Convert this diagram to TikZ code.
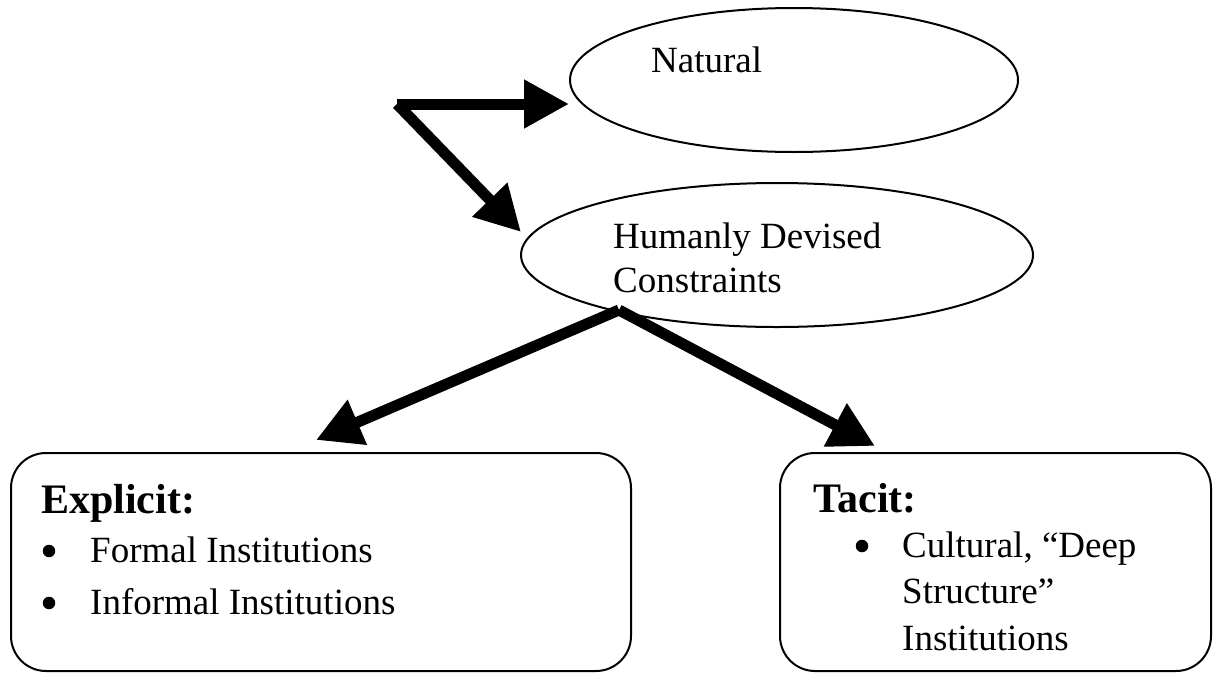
\documentclass[tikz,border=0pt]{standalone}
\usepackage{fontspec}
\setmainfont{Liberation Serif}
\usetikzlibrary{arrows.meta,shapes.geometric,calc}

\begin{document}
\begin{tikzpicture}[x=1pt,y=-1pt,
  outline/.style={draw=black, line width=2pt},
  oval/.style={outline, ellipse, inner sep=0pt},
  panel/.style={outline, rounded corners=35pt, inner sep=0pt},
  bigarrow/.style={line width=11pt, -{Triangle[length=45pt,width=46pt]}},
  txt/.style={inner sep=0pt, anchor=base west, font=\fontsize{37}{43}\selectfont},
  head/.style={inner sep=0pt, anchor=base west, font=\fontsize{42}{48}\selectfont\bfseries},
  dot/.style={circle, fill=black, inner sep=0pt, minimum size=12.5pt},
]
\useasboundingbox (0,0) rectangle (1217,675);

% the two kinds of constraint
\node[oval, minimum width=448pt, minimum height=144pt] (nat) at (794,80) {};
\node[oval, minimum width=512pt, minimum height=144pt] (hum) at (777,255) {};
\node[txt] (natlbl) at (651,72) {Natural};
\node[txt] (humA) at (613,248) {Humanly Devised};
\node[txt] (humB) at (613,292) {Constraints};

% the two kinds of institution
\node[panel, minimum width=620pt, minimum height=218pt, anchor=north west] (left) at (10,452) {};
\node[panel, minimum width=431pt, minimum height=218pt, anchor=north west] (right) at (779,452) {};

\node[head] (exh) at (41,513) {Explicit:};
\node[dot] (b1) at (49,551) {};
\node[txt] (f1) at (90,562) {Formal Institutions};
\node[dot] (b2) at (49,603) {};
\node[txt] (f2) at (90,614) {Informal Institutions};

\node[head] (tch) at (813,512) {Tacit:};
\node[dot] (b3) at (862,546) {};
\node[txt] (t1) at (902,557) {Cultural, “Deep};
\node[txt] (t2) at (902,603) {Structure”};
\node[txt] (t3) at (902,650) {Institutions};

% connectors
\coordinate (fork) at (397,104);
\coordinate (humtip) at ($(hum.west)+(1,-23)$);
\draw[bigarrow] (fork) -- (fork -| nat.west);
\draw[bigarrow] (fork) -- (humtip);

\coordinate (split) at (619,310);
\coordinate (lefttip) at ($(left.north west)+(306,-12)$);
\coordinate (righttip) at ($(right.north west)+(96,-6)$);
\draw[bigarrow] (split) -- (lefttip);
\draw[bigarrow] (split) -- (righttip);
\end{tikzpicture}
\end{document}
